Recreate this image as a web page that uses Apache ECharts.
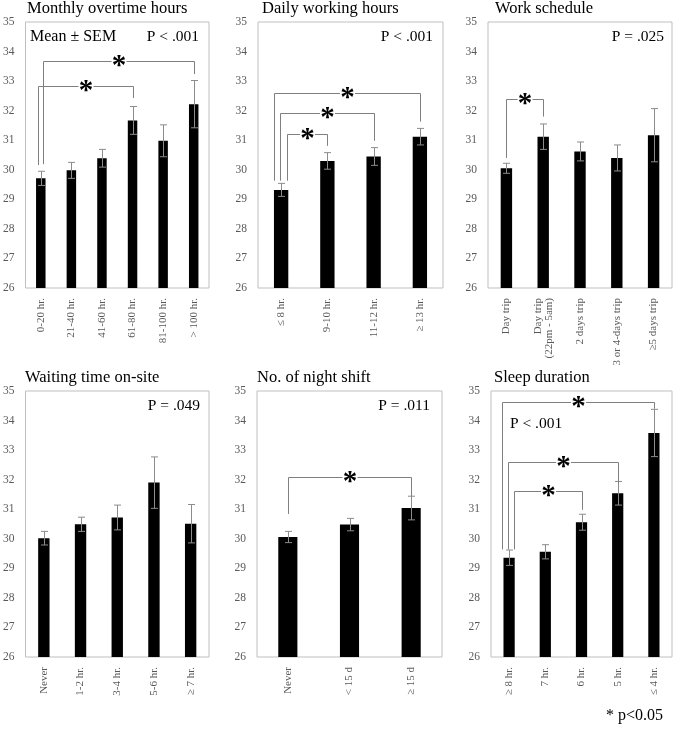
<!DOCTYPE html>
<html><head><meta charset="utf-8">
<script src="https://cdn.jsdelivr.net/npm/echarts/dist/echarts.min.js"></script>
<style>html,body{margin:0;padding:0;background:#fff}#c{width:676px;height:731px}</style>
</head><body><div id="c"></div>
<script>
// ---------- DATA ----------
const yMin = 26, yMax = 35, yStep = 1;

const overtimeTitle = 'Monthly overtime hours';
const overtimeCats  = ['0-20 hr.', '21-40 hr.', '41-60 hr.', '61-80 hr.', '81-100 hr.', '> 100 hr.'];
const overtimeMeans = [29.71, 29.98, 30.39, 31.67, 30.98, 32.22];
const overtimeSem   = [0.24, 0.27, 0.30, 0.47, 0.54, 0.80];
const overtimeP     = 'P < .001';
// [fromIdx, toIdx, bracketLevel, leftLegEnd, rightLegEnd]
const overtimeSig   = [[0, 3, 32.83, 30.16, 32.43], [0, 5, 33.68, 30.19, 33.24]];

const dailyTitle = 'Daily working hours';
const dailyCats  = ['≤ 8 hr.', '9-10 hr.', '11-12 hr.', '≥ 13 hr.'];
const dailyMeans = [29.32, 30.30, 30.45, 31.12];
const dailySem   = [0.22, 0.28, 0.30, 0.28];
const dailyP     = 'P < .001';
const dailySig   = [[0, 1, 31.21, 29.63, 30.81], [0, 2, 31.91, 29.63, 30.98], [0, 3, 32.59, 29.63, 31.63]];

const scheduleTitle = 'Work schedule';
const scheduleCats  = ['Day trip', 'Day trip\n(22pm - 5am)', '2 days trip', '3 or 4-days trip', '≥5 days trip'];
const scheduleMeans = [30.05, 31.12, 30.62, 30.40, 31.17];
const scheduleSem   = [0.17, 0.43, 0.32, 0.44, 0.90];
const scheduleP     = 'P = .025';
const scheduleSig   = [[0, 1, 32.41, 30.40, 31.80]];

const waitingTitle = 'Waiting time on-site';
const waitingCats  = ['Never', '1-2 hr.', '3-4 hr.', '5-6 hr.', '≥ 7 hr.'];
const waitingMeans = [30.02, 30.49, 30.72, 31.90, 30.51];
const waitingSem   = [0.23, 0.24, 0.42, 0.87, 0.65];
const waitingP     = 'P = .049';
const waitingSig   = [];

const nightTitle = 'No. of night shift';
const nightCats  = ['Never', '< 15 d', '≥ 15 d'];
const nightMeans = [30.06, 30.48, 31.04];
const nightSem   = [0.19, 0.21, 0.40];
const nightP     = 'P = .011';
const nightSig   = [[0, 2, 32.10, 30.84, 31.43]];

const sleepTitle = 'Sleep duration';
const sleepCats  = ['≥ 8 hr.', '7 hr.', '6 hr.', '5 hr.', '≤ 4 hr.'];
const sleepMeans = [29.36, 29.56, 30.56, 31.54, 33.58];
const sleepSem   = [0.26, 0.24, 0.27, 0.40, 0.80];
const sleepP     = 'P < .001';
const sleepSig   = [[0, 2, 31.62, 29.64, 30.98], [0, 3, 32.60, 29.64, 31.86], [0, 4, 34.62, 29.64, 34.40]];

const meanLabel = 'Mean ± SEM';
const footnote  = '* p<0.05';

// ---------- LAYOUT / STYLE ----------
const SERIF = '"Liberation Serif", "Times New Roman", serif';
const panels = [
  {title: overtimeTitle, cats: overtimeCats, means: overtimeMeans, sem: overtimeSem, p: overtimeP, sig: overtimeSig,
   grid: {left: 24, top: 22, width: 185, height: 266}, legOff: [-2.6, 2.4], titleXY: [27, 9], pXY: [199, 37, 'right']},
  {title: dailyTitle, cats: dailyCats, means: dailyMeans, sem: dailySem, p: dailyP, sig: dailySig,
   grid: {left: 258, top: 22, width: 185, height: 266}, legOff: [5.5, -1, -7.3], titleXY: [262, 9], pXY: [433, 37, 'right']},
  {title: scheduleTitle, cats: scheduleCats, means: scheduleMeans, sem: scheduleSem, p: scheduleP, sig: scheduleSig,
   grid: {left: 488, top: 22, width: 184, height: 266}, legOff: [0], titleXY: [495, 9], pXY: [664, 37, 'right']},
  {title: waitingTitle, cats: waitingCats, means: waitingMeans, sem: waitingSem, p: waitingP, sig: waitingSig,
   grid: {left: 25, top: 391, width: 184, height: 266}, legOff: [], titleXY: [25, 378], pXY: [200, 406, 'right']},
  {title: nightTitle, cats: nightCats, means: nightMeans, sem: nightSem, p: nightP, sig: nightSig,
   grid: {left: 257, top: 391, width: 185, height: 266}, legOff: [0], titleXY: [257, 378], pXY: [430, 406, 'right']},
  {title: sleepTitle, cats: sleepCats, means: sleepMeans, sem: sleepSem, p: sleepP, sig: sleepSig,
   grid: {left: 491, top: 391, width: 181, height: 266}, legOff: [5, -1, -7.3], titleXY: [494, 378], pXY: [510, 424, 'left']}
];

function errRender(params, api) {
  const i = api.value(0), m = api.value(1), s = api.value(2);
  const t = api.coord([i, m + s]), b = api.coord([i, m - s]);
  const x = Math.round(t[0]) + 0.5, w = 3.5;
  const st = {stroke: '#8c8c8c', lineWidth: 1};
  return {type: 'group', children: [
    {type: 'line', shape: {x1: x, y1: t[1], x2: x, y2: b[1]}, style: st},
    {type: 'line', shape: {x1: x - w, y1: t[1], x2: x + w, y2: t[1]}, style: st},
    {type: 'line', shape: {x1: x - w, y1: b[1], x2: x + w, y2: b[1]}, style: st}
  ]};
}

function makeBracketRender(offsets) {
  return function (params, api) {
    const a = api.value(0), b = api.value(1), lvl = api.value(2), le = api.value(3), re = api.value(4);
    const off = offsets[params.dataIndex] || 0;
    const pl = api.coord([a, lvl]), pr = api.coord([b, lvl]);
    const xl = Math.round(pl[0] + off) + 0.5, xr = Math.round(pr[0]) + 0.5;
    const y = Math.round(pl[1]) + 0.5;
    const yl = api.coord([a, le])[1], yr = api.coord([b, re])[1];
    const mx = (xl + xr) / 2, gap = 7.5;
    const st = {stroke: '#7f7f7f', lineWidth: 1, fill: null};
    return {type: 'group', children: [
      {type: 'polyline', shape: {points: [[xl, yl], [xl, y], [mx - gap, y]]}, style: st},
      {type: 'polyline', shape: {points: [[mx + gap, y], [xr, y], [xr, yr]]}, style: st},
      {type: 'text', x: mx, y: y + 5.5, style: {text: '*', fontSize: 29, fontWeight: 'bold', fontFamily: SERIF, fill: '#000', align: 'center', verticalAlign: 'middle'}}
    ]};
  };
}

const option = {
  backgroundColor: '#fff',
  animation: false,
  grid: [], xAxis: [], yAxis: [], series: [], graphic: []
};

panels.forEach((p, k) => {
  option.grid.push(Object.assign({show: true, borderColor: '#bfbfbf', borderWidth: 1, backgroundColor: 'transparent'}, p.grid));
  option.xAxis.push({
    type: 'category', gridIndex: k, data: p.cats,
    axisLine: {show: false}, axisTick: {show: false}, splitLine: {show: false},
    axisLabel: {interval: 0, rotate: 90, margin: 10, color: '#595959', fontSize: 11, fontFamily: SERIF, lineHeight: 11}
  });
  option.yAxis.push({
    type: 'value', gridIndex: k, min: yMin, max: yMax, interval: yStep,
    axisLine: {show: false}, axisTick: {show: false}, splitLine: {show: false},
    axisLabel: {margin: 11, color: '#595959', fontSize: 11.5, fontFamily: SERIF}
  });
  option.series.push({
    type: 'bar', xAxisIndex: k, yAxisIndex: k, data: p.means, barWidth: '31%',
    itemStyle: {color: '#000'}, silent: true
  });
  option.series.push({
    type: 'custom', xAxisIndex: k, yAxisIndex: k, renderItem: errRender, z: 5, silent: true,
    encode: {x: 0, y: 1},
    data: p.means.map((m, i) => [i, m, p.sem[i]])
  });
  if (p.sig.length) {
    option.series.push({
      type: 'custom', xAxisIndex: k, yAxisIndex: k, renderItem: makeBracketRender(p.legOff), z: 6, silent: true,
      encode: {x: [0, 1], y: [2, 3, 4]}, clip: false,
      data: p.sig
    });
  }
  option.graphic.push({type: 'text', x: p.titleXY[0], y: p.titleXY[1],
    style: {text: p.title, fontSize: 16.5, fontFamily: SERIF, fill: '#000', verticalAlign: 'middle'}});
  option.graphic.push({type: 'text', x: p.pXY[0], y: p.pXY[1],
    style: {text: p.p, fontSize: 15.5, fontFamily: SERIF, fill: '#000', align: p.pXY[2], verticalAlign: 'middle'}});
});
option.graphic.push({type: 'text', x: 30, y: 37,
  style: {text: meanLabel, fontSize: 16, fontFamily: SERIF, fill: '#000', verticalAlign: 'middle'}});
option.graphic.push({type: 'text', x: 606, y: 716,
  style: {text: footnote, fontSize: 16, fontFamily: SERIF, fill: '#000', verticalAlign: 'middle'}});

const chart = echarts.init(document.getElementById('c'), null, {renderer: 'canvas'});
chart.setOption(option);
</script>
</body></html>
